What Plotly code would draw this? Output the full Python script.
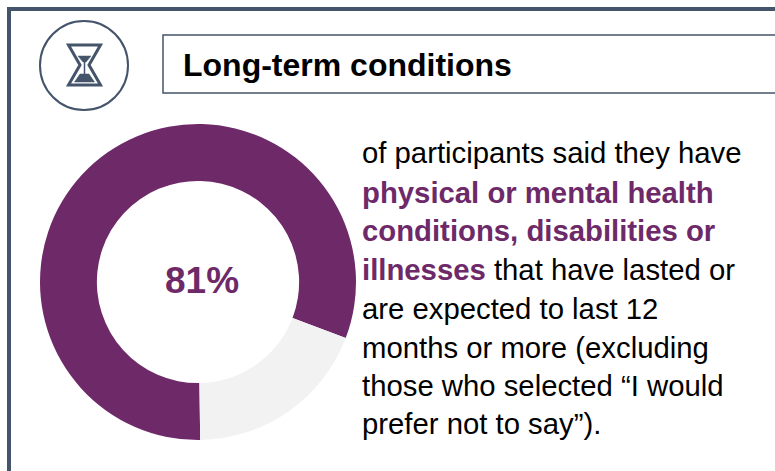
import plotly.graph_objects as go

W, H = 775, 471
categories = ["Yes", "No"]
values = [81, 19]
centre_label = "81%"
title_text = "Long-term conditions"
PURPLE = "#6E2969"
GREY = "#F2F2F2"
SLATE = "#44546A"
body_lines = [
    "of participants said they have",
    f"<b><span style='color:{PURPLE}'>physical or mental health</span></b>",
    f"<b><span style='color:{PURPLE}'>conditions, disabilities or</span></b>",
    f"<b><span style='color:{PURPLE}'>illnesses</span></b> that have lasted or",
    "are expected to last 12",
    "months or more (excluding",
    "those who selected “I would",
    "prefer not to say”).",
]
body_y = [153, 192, 230, 269, 308, 347, 385, 423]

def px(x):
    return x / W

def py(y):
    return 1 - y / H

fig = go.Figure(go.Pie(
    labels=categories, values=values, hole=0.64, sort=False, direction="clockwise",
    rotation=179.2, marker=dict(colors=[PURPLE, GREY], line=dict(width=0)),
    textinfo="none", hoverinfo="label+percent", showlegend=False,
    domain=dict(x=[px(40), px(356)], y=[py(440), py(124)]),
))

def line(x0, y0, x1, y1, w=2, color=SLATE):
    return dict(type="line", xref="paper", yref="paper", x0=px(x0), y0=py(y0), x1=px(x1), y1=py(y1),
                line=dict(color=color, width=w))

def path(points, fill=None, w=1.5):
    d = "M " + " L ".join(f"{px(x):.5f},{py(y):.5f}" for x, y in points) + " Z"
    return dict(type="path", xref="paper", yref="paper", path=d,
                fillcolor=fill if fill else "rgba(0,0,0,0)",
                line=dict(color=SLATE, width=w))

shapes = [
    line(9, 9, W + 5, 9, 4),
    line(9, 7, 9, H + 5, 4),
    dict(type="rect", xref="paper", yref="paper", x0=px(163), y0=py(93), x1=px(W + 5), y1=py(35),
         line=dict(color=SLATE, width=1.5), fillcolor="white"),
    dict(type="circle", xref="paper", yref="paper", x0=px(40), y0=py(110), x1=px(128), y1=py(21),
         line=dict(color=SLATE, width=2), fillcolor="white"),
    # hourglass icon
    path([(68.5, 45), (100.5, 45), (89, 65), (100.5, 85), (68.5, 85), (80, 65)], None, 3),
    path([(74.5, 82), (94.5, 82), (89, 74), (80, 74)], SLATE, 0.5),
    path([(78, 56), (91, 56), (86, 62), (83, 62)], SLATE, 0.5),
    line(84.5, 61, 84.5, 74, 1.5),
]

annotations = [
    dict(text=f"<b>{title_text}</b>", x=px(181.5), y=py(65), font=dict(size=32, color="black"), xanchor="left"),
    dict(text=f"<b>{centre_label}</b>", x=px(202), y=py(280), font=dict(size=37, color=PURPLE), xanchor="center"),
]
for t, y in zip(body_lines, body_y):
    annotations.append(dict(text=t, x=px(360.5), y=py(y), font=dict(size=29.3, color="black"), xanchor="left"))
for a in annotations:
    a.update(xref="paper", yref="paper", yanchor="middle", showarrow=False, align="left", borderpad=0)

fig.update_layout(
    width=W, height=H, margin=dict(l=0, r=0, t=0, b=0), paper_bgcolor="white", plot_bgcolor="white",
    font=dict(family="Liberation Sans, Arial, sans-serif"), shapes=shapes, annotations=annotations,
)
fig.write_html("out.html", config={"displayModeBar": False},
               post_script="document.body.style.margin='0';document.body.style.overflow='hidden';")
